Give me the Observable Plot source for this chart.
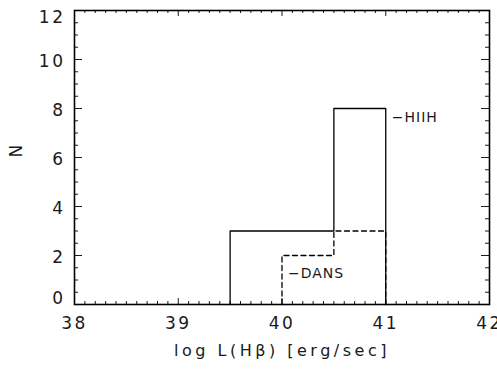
<!DOCTYPE html>
<html>
<head>
<meta charset="utf-8">
<script src="https://cdn.jsdelivr.net/npm/d3@7"></script>
<script src="https://cdn.jsdelivr.net/npm/@observablehq/plot@0.6"></script>
<style>
  html, body { margin: 0; padding: 0; background: #fff; }
  #chart svg { display: block; }
</style>
</head>
<body>
<div id="chart"></div>
<script>
// Histogram of log L(Hβ) for the two samples (bin width 0.5 dex)
const binEdges = [39.5, 40.0, 40.5, 41.0];
const hiihCounts = [3, 3, 8];
const dansCounts = [0, 2, 3];
const seriesNames = ["HIIH", "DANS"];

// Axis ticks and labels
const xMajor = [38, 39, 40, 41, 42];
const yMajor = [0, 2, 4, 6, 8, 10, 12];
const xMinor = d3.range(380, 421).map(d => d / 10).filter(d => !xMajor.includes(d));
const yMinor = d3.range(0, 25).map(d => d / 2).filter(d => !yMajor.includes(d));

// Turn bin counts into the vertices of an outline drawn with a step-after curve
function outline(edges, counts) {
  const first = counts.findIndex(c => c > 0);
  const pts = [{x: edges[first], y: 0}];
  for (let i = first; i < counts.length; i++) pts.push({x: edges[i], y: counts[i]});
  pts.push({x: edges[edges.length - 1], y: 0});
  return pts;
}
const hiih = outline(binEdges, hiihCounts);
const dans = outline(binEdges, dansCounts);
// label anchors: top right corner of HIIH, top left corner of DANS
const hiihLabelAt = {x: binEdges[binEdges.length - 1], y: hiihCounts[hiihCounts.length - 1]};
const dansLabelAt = dans[1];

const W = 497, H = 370;
const mT = 10, mB = 66, mL = 74, mR = 8;
const plotW = W - mL - mR, plotH = H - mT - mB;
const font = "'DejaVu Sans', 'Liberation Sans', sans-serif";
const ink = "#1a1a1a";

const majX = 6, minX = 3, majY = 8, minY = 4;

const chart = Plot.plot({
  width: W,
  height: H,
  marginTop: mT,
  marginBottom: mB,
  marginLeft: mL,
  marginRight: mR,
  x: {domain: [38, 42], axis: null},
  y: {domain: [0, 12], axis: null},
  style: {fontFamily: font, color: ink, background: "#fff"},
  marks: [
    // inward-pointing ticks on all four sides
    Plot.tickX(xMajor, {x: d => d, insetTop: plotH - majX, stroke: ink}),
    Plot.tickX(xMajor, {x: d => d, insetBottom: plotH - majX, stroke: ink}),
    Plot.tickX(xMinor, {x: d => d, insetTop: plotH - minX, stroke: ink}),
    Plot.tickX(xMinor, {x: d => d, insetBottom: plotH - minX, stroke: ink}),
    Plot.tickY(yMajor, {y: d => d, insetRight: plotW - majY, stroke: ink}),
    Plot.tickY(yMajor, {y: d => d, insetLeft: plotW - majY, stroke: ink}),
    Plot.tickY(yMinor, {y: d => d, insetRight: plotW - minY, stroke: ink}),
    Plot.tickY(yMinor, {y: d => d, insetLeft: plotW - minY, stroke: ink}),

    // histogram outlines
    Plot.line(dans, {x: "x", y: "y", curve: "step-after", stroke: "#000", strokeWidth: 1.3, strokeDasharray: "5,3.5"}),
    Plot.line(hiih, {x: "x", y: "y", curve: "step-after", stroke: "#000", strokeWidth: 1.3}),

    Plot.frame({stroke: "#000", strokeWidth: 1.6}),

    // series labels
    Plot.text([hiihLabelAt], {x: "x", y: "y", text: () => "\u2212" + seriesNames[0], textAnchor: "start",
      dx: 6, dy: 9, fontSize: 14, fill: ink}),
    Plot.text([dansLabelAt], {x: "x", y: "y", text: () => "\u2212" + seriesNames[1], textAnchor: "start",
      dx: 6, dy: 18, fontSize: 14, fill: ink}),

    // tick labels
    Plot.text(xMajor, {x: d => d, frameAnchor: "bottom", dy: 24, text: d => String(d), fontSize: 17, fill: ink}),
    Plot.text(yMajor.filter(d => d > 0 && d < 12), {y: d => d, frameAnchor: "left", dx: -9, dy: 2,
      textAnchor: "end", text: d => String(d), fontSize: 17, fill: ink}),
    Plot.text([12], {y: d => d, frameAnchor: "left", dx: -9, dy: 7,
      textAnchor: "end", text: d => String(d), fontSize: 17, fill: ink}),
    Plot.text([0], {y: d => d, frameAnchor: "left", dx: -9, dy: -6,
      textAnchor: "end", text: d => String(d), fontSize: 17, fill: ink}),

    // axis titles
    Plot.text(["log L(H\u03B2) [erg/sec]"], {frameAnchor: "bottom", dy: 51, text: d => d, fontSize: 16, fill: ink}),
    Plot.text(["N"], {frameAnchor: "left", dx: -58, rotate: -90, text: d => d, fontSize: 17, fill: ink})
  ]
});

document.getElementById("chart").appendChild(chart);

// letter spacing for the wide, open lettering of the labels
const spacing = {14: "1px", 16: "3.5px", 17: "2.5px"};
d3.select(chart).selectAll("text").each(function () {
  const fs = parseFloat(this.closest("g").getAttribute("font-size")) || 12;
  d3.select(this).style("letter-spacing", spacing[fs] || "0px");
});
</script>
</body>
</html>
